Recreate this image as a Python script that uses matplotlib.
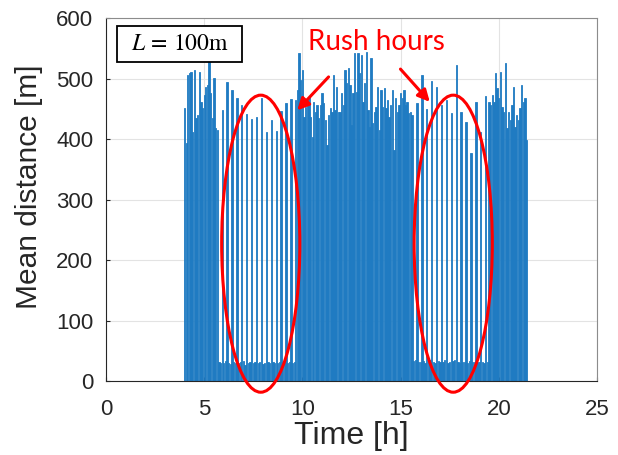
import matplotlib
matplotlib.use("Agg")
import matplotlib.pyplot as plt
from matplotlib.patches import Ellipse, Rectangle
import numpy as np

# ---- data (5-minute bins starting at 4:00) ----
start_hour = 4.0
bin_hours = 5.0 / 60.0

pre_rush = [451, 393, 505, 509, 511, 412, 514, 434, 440, 511, 461,
            451, 473, 486, 489, 532, 476, 434, 501, 418, 415]

rush1 = [31, 30, 448, 29, 33, 495, 30, 28, 481, 32, 30, 468, 29, 31, 456,
         33, 27, 441, 30, 31, 433, 29, 32, 436, 30, 31, 468, 28, 30, 412,
         32, 30, 431, 31, 29, 413, 30, 32, 446, 31, 30, 459, 29, 31, 466,
         30, 32]

midday = [464, 481, 542, 497, 514, 436, 453, 464, 469, 436, 403, 461,
          445, 456, 434, 456, 476, 459, 431, 390, 440, 451, 445, 505,
          448, 486, 445, 445, 476, 456, 514, 492, 517, 489, 423, 476,
          542, 478, 542, 509, 539, 461, 492, 544, 448, 420, 534, 426,
          445, 453, 486, 415, 481, 453, 484, 451, 464, 436, 456, 481,
          382, 468, 445, 456, 476, 468, 481, 456, 461, 443, 445, 440]

rush2 = [33, 35, 460, 31, 32, 506, 33, 30, 450, 32, 34, 496, 31, 30, 486,
         33, 32, 456, 31, 34, 464, 30, 32, 443, 33, 35, 522, 31, 30, 445,
         32, 31, 428, 30, 33, 377, 31, 32, 461, 30, 31, 412, 32, 30, 471,
         31]

post_rush = [461, 456, 473, 461, 509, 484, 468, 511, 453, 445, 526, 418,
             445, 431, 456, 486, 420, 440, 431, 451, 489, 461, 468, 398]

mean_distance = pre_rush + rush1 + midday + rush2 + post_rush
hours = start_hour + bin_hours * np.arange(len(mean_distance))

xticks = [0, 5, 10, 15, 20, 25]
yticks = [0, 100, 200, 300, 400, 500, 600]

# ---- figure ----
plt.rcParams['font.family'] = ['Liberation Sans', 'DejaVu Sans']
plt.rcParams['mathtext.fontset'] = 'stix'

fig = plt.figure(figsize=(6.18, 4.55), dpi=100)
ax = fig.add_axes([0.1715, 0.1626, 0.7945, 0.7978])

ax.bar(hours, mean_distance, width=bin_hours * 0.8, color='#1f7bc2',
       edgecolor='#1f7bc2', linewidth=0.6, zorder=2)

ax.set_xlim(0, 25)
ax.set_ylim(0, 600)
ax.set_xticks(xticks)
ax.set_yticks(yticks)
ax.grid(True, color='#e3e3e3', linewidth=0.8, zorder=0)
ax.set_axisbelow(True)
for s in ax.spines.values():
    s.set_color('#8c8c8c')
    s.set_linewidth(0.8)
ax.spines['bottom'].set_color('#262626')
ax.spines['left'].set_color('#262626')
ax.tick_params(direction='in', length=3, labelsize=16, colors='#262626',
               top=False, right=False)
ax.tick_params(axis='x', pad=13)
ax.tick_params(axis='y', pad=9)
ax.set_xlabel('Time [h]', fontsize=23, color='#262626', labelpad=1)
ax.set_ylabel('Mean distance [m]', fontsize=21.5, color='#262626')
ax.yaxis.set_label_coords(-0.128, 0.535)

# annotations
ax.add_patch(Rectangle((0.56, 527), 6.38, 60, facecolor='white',
                       edgecolor='black', linewidth=1.3, zorder=5))
ax.text(3.75, 557, r'$L\, =\, 100\mathrm{m}$', fontsize=17, ha='center',
        va='center', zorder=6)

ax.text(13.78, 561, 'Rush hours', color='red', fontsize=20,
        family=['Lato', 'DejaVu Sans'], ha='center', va='center',
        zorder=5)

for cx in (7.88, 17.68):
    e = Ellipse((cx, 227), width=3.98, height=491, fill=False,
                edgecolor='red', linewidth=2.2, clip_on=False, zorder=4)
    ax.add_patch(e)

arrow_kw = dict(arrowstyle='-|>,head_length=0.7,head_width=0.35',
                color='red', lw=2.2)
ax.annotate('', xy=(9.64, 444), xytext=(11.43, 506), arrowprops=arrow_kw,
            zorder=5)
ax.annotate('', xy=(16.58, 458), xytext=(14.9, 519), arrowprops=arrow_kw,
            zorder=5)

fig.savefig('out.png', dpi=100)
